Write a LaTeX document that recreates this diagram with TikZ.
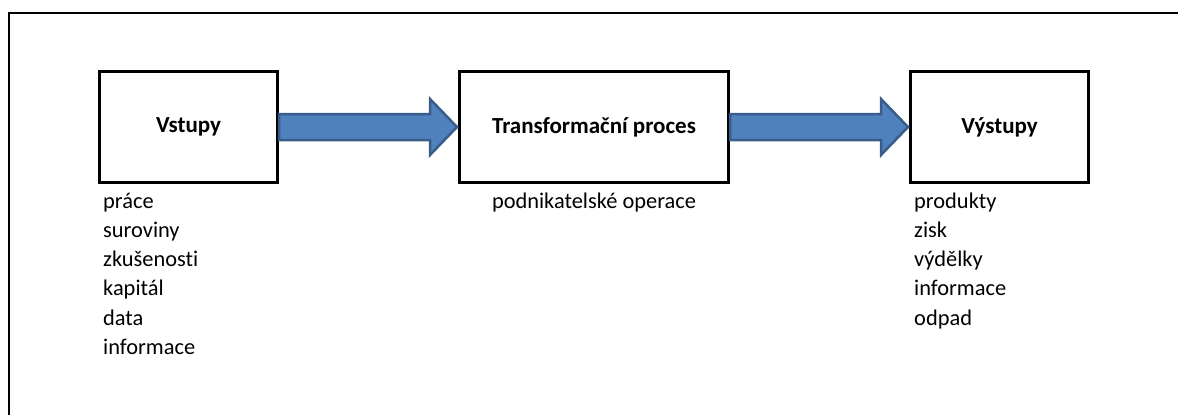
\documentclass[tikz,border=0pt]{standalone}
\usepackage{fontspec}
\setmainfont{Carlito}[Ligatures=NoCommon]
\usetikzlibrary{calc}
\definecolor{arrowfill}{HTML}{4F81BD}
\definecolor{arrowline}{HTML}{385D8A}

% broad block arrow from the east side of one stage to the west side of the next
\newcommand\flowarrow[2]{%
  \path[flow] let \p1=(#1.east), \p2=(#2.west) in
    (\x1,\y1+13) -- (\x2-28,\y1+13) -- (\x2-28,\y1+28) -- (\x2-1,\y1)
    -- (\x2-28,\y1-28) -- (\x2-28,\y1-13) -- (\x1,\y1-13) -- cycle;}

\begin{document}
\begin{tikzpicture}[x=1pt,y=1pt,
  stage/.style={draw=black, line width=3pt, minimum height=111pt, inner sep=0pt,
                font=\fontsize{23}{27}\selectfont\bfseries},
  item/.style={inner sep=0pt, anchor=base west, font=\fontsize{22.4}{26}\selectfont},
  flow/.style={fill=arrowfill, draw=arrowline, line width=2.5pt, line join=miter}]
\useasboundingbox (0,0) rectangle (1178,-415);

% open frame: left and top edges
\draw[line width=2pt] (9,-415) -- (9,-13) -- (1178,-13);

% the three stages
\node[stage, minimum width=178pt] (in)   at (188.5,-127) {Vstupy};
\node[stage, minimum width=269pt] (proc) at (594,-127)   {Transformační proces};
\node[stage, minimum width=178pt] (out)  at (999.5,-127) {Výstupy};

% arrows between the stages
\flowarrow{in}{proc}
\flowarrow{proc}{out}

% inputs
\foreach \t [count=\i] in {práce, suroviny, zkušenosti, kapitál, data, informace}
  \node[item] (in-\i) at ($(in.south west)+(5,{-24-29.3*(\i-1)})$) {\t};

% process description
\node[item, anchor=base] (proc-1) at ($(proc.south)+(0,-24)$) {podnikatelské operace};

% outputs
\foreach \t [count=\i] in {produkty, zisk, výdělky, informace, odpad}
  \node[item] (out-\i) at ($(out.south west)+(5,{-24-29.3*(\i-1)})$) {\t};
\end{tikzpicture}
\end{document}
